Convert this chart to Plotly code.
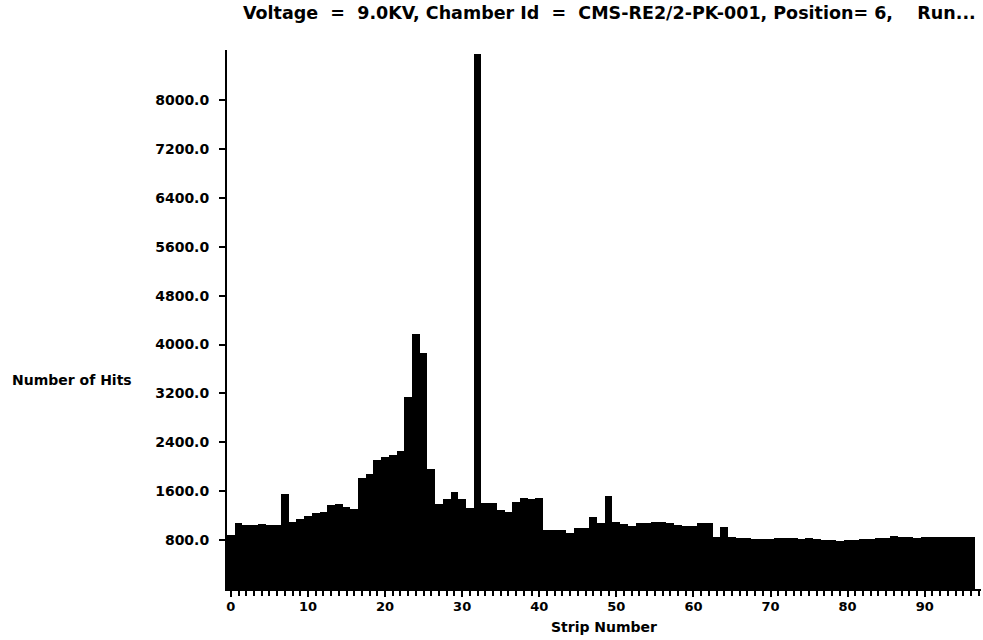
import plotly.graph_objects as go

strips = list(range(97))
hits = [
    880, 1075, 1050, 1050, 1065, 1055, 1045, 1560, 1100, 1140,
    1200, 1240, 1255, 1375, 1385, 1340, 1305, 1820, 1880, 2110,
    2155, 2195, 2255, 3140, 4175, 3870, 1960, 1390, 1470, 1580,
    1470, 1320, 8755, 1400, 1405, 1295, 1255, 1420, 1485, 1470,
    1485, 965, 965, 960, 920, 995, 1005, 1185, 1075, 1530,
    1100, 1060, 1030, 1075, 1085, 1090, 1090, 1085, 1040, 1035,
    1030, 1085, 1080, 845, 1010, 845, 830, 835, 820, 820,
    820, 830, 835, 830, 820, 830, 815, 810, 810, 790,
    795, 810, 820, 825, 830, 835, 860, 855, 845, 840,
    845, 845, 850, 845, 845, 845, 845,
]
ytick_vals = [800, 1600, 2400, 3200, 4000, 4800, 5600, 6400, 7200, 8000]
xtick_vals = [0, 10, 20, 30, 40, 50, 60, 70, 80, 90]

title_text = ("Voltage\u00a0\u00a0=\u00a0\u00a09.0KV, Chamber Id\u00a0\u00a0=\u00a0\u00a0"
              "CMS-RE2/2-PK-001, Position=\u00a06,\u00a0\u00a0\u00a0\u00a0Run...")

FONT = "DejaVu Sans"

fig = go.Figure(go.Bar(
    x=strips, y=hits, width=1.0,
    marker=dict(color="black", line=dict(width=0)),
))

L, R, T, B = 227, 2, 50, 51
W, H = 983, 640
pw = W - L - R
ph = H - T - B

fig.update_layout(
    width=W, height=H,
    margin=dict(l=L, r=R, t=T, b=B, pad=0),
    paper_bgcolor="white", plot_bgcolor="white",
    bargap=0, showlegend=False,
    font=dict(family=FONT, size=14, color="black", weight="bold"),
    xaxis=dict(
        range=[-0.5, 97.3], showgrid=False, zeroline=False,
        showline=True, linecolor="black", linewidth=2,
        ticks="outside", ticklen=6, tickwidth=1.5, tickcolor="black",
        tickvals=xtick_vals, ticktext=[str(v) for v in xtick_vals],
        tickfont=dict(family=FONT, size=13, color="black", weight="bold"),
        ticklabelstandoff=-2,
        minor=dict(dtick=1, tick0=0, ticks="outside", ticklen=5, tickwidth=1.5, tickcolor="black", showgrid=False),
        title=dict(text="Strip Number", font=dict(family=FONT, size=14, color="black", weight="bold"), standoff=10),
    ),
    yaxis=dict(
        range=[0, 8820], showgrid=False, zeroline=False,
        showline=True, linecolor="black", linewidth=2,
        ticks="outside", ticklen=6, tickwidth=1.5, tickcolor="black",
        tickvals=ytick_vals, ticktext=[f"{v:.1f}" for v in ytick_vals],
        tickfont=dict(family=FONT, size=14, color="black", weight="bold"),
        ticklabelstandoff=7,
    ),
    annotations=[
        dict(text="Number of Hits", xref="paper", yref="paper",
             x=(10 - L) / pw, y=(H - B - 380) / ph, xanchor="left", yanchor="middle",
             showarrow=False, font=dict(family=FONT, size=14, color="black", weight="bold")),
        dict(text=title_text, xref="paper", yref="paper",
             x=(609 - L) / pw, y=(H - B - 13) / ph, xanchor="center", yanchor="middle",
             showarrow=False, font=dict(family=FONT, size=17.5, color="black", weight="bold")),
    ],
)

fig.write_html("out.html")
